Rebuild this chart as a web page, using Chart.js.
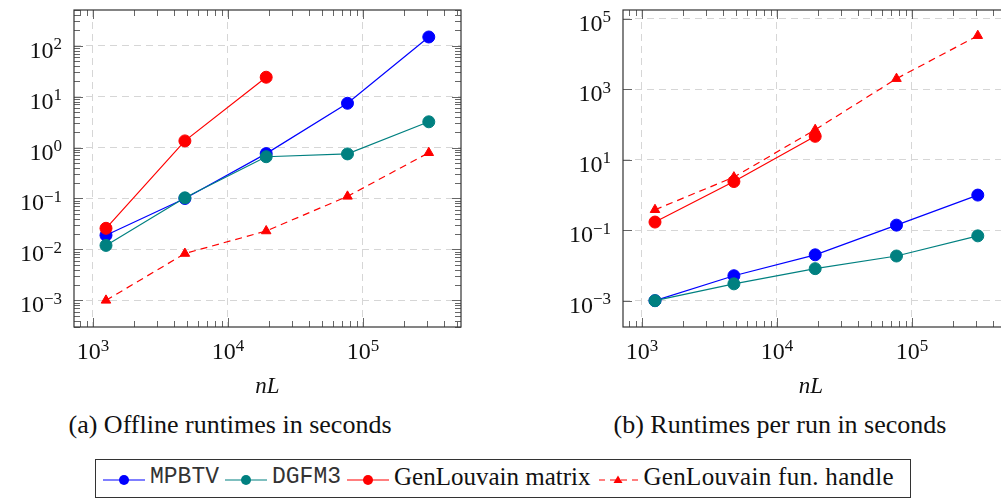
<!DOCTYPE html>
<html>
<head>
<meta charset="utf-8">
<script src="https://cdn.jsdelivr.net/npm/chart.js@4/dist/chart.umd.min.js"></script>
<style>
  html, body { margin: 0; padding: 0; background: #fff; }
  #page { position: relative; width: 1001px; height: 499px; overflow: hidden; background: #fff; font-family: 'Liberation Serif', serif; color: #111; }
  #page canvas { position: absolute; top: 0; }
  #chartA { left: 0; }
  #chartB { left: 540px; }
  .caption { position: absolute; top: 410px; line-height: 30px; font-size: 26px; white-space: nowrap; transform: translateX(-50%); }
  .tick { position: absolute; font-size: 24px; line-height: 24px; white-space: nowrap; }
  .tick sup { font-size: 17px; position: relative; top: -8.5px; vertical-align: baseline; line-height: 0; }
  .tick.x { transform: translateX(-50%); }
  .tick.y { transform: translateX(-100%); }
  .axtitle { position: absolute; font-style: italic; font-size: 23px; line-height: 24px; transform: translateX(-50%); white-space: nowrap; }
  #legend { position: absolute; left: 95px; top: 459px; width: 816px; height: 39px; box-sizing: border-box; border: 1px solid #333; padding: 0 0 4px 7px; display: flex; align-items: center; font-size: 25px; white-space: nowrap; }
  #legend svg { position: relative; top: 3px; margin-right: 5px; }
  #legend .txt { margin-right: 6px; line-height: 30px; }
  #legend .mono { font-family: 'Liberation Mono', monospace; font-size: 23px; color: #333; }
  #legend .wide { letter-spacing: 0.3px; }
</style>
</head>
<body>
<div id="page">
  <canvas id="chartA" width="480" height="400"></canvas>
  <canvas id="chartB" width="480" height="400"></canvas>
  <div class="caption" style="left:230px">(a) Offline runtimes in seconds</div>
  <div class="caption" style="left:780px">(b) Runtimes per run in seconds</div>
  <div id="legend"></div>
</div>
<script>
var nL = [1250, 4800, 19200, 76800, 307200];

var offlineMPBTV = [0.019, 0.1, 0.76, 7.4, 148];
var offlineDGFM3 = [0.012, 0.103, 0.66, 0.75, 3.2];
var offlineGenMatrix = [0.026, 1.35, 24];
var offlineGenHandle = [0.001, 0.0083, 0.023, 0.11, 0.79];

var perRunMPBTV = [0.001, 0.0051, 0.02, 0.139, 0.99];
var perRunDGFM3 = [0.001, 0.003, 0.0081, 0.0185, 0.069];
var perRunGenMatrix = [0.17, 2.4, 46];
var perRunGenHandle = [0.38, 3.2, 71, 1990, 33000];

var seriesNames = ['MPBTV', 'DGFM3', 'GenLouvain matrix', 'GenLouvain fun. handle'];
var seriesColors = ['#0000ff', '#008080', '#ff0000', '#ff0000'];

var xTickExps = [3, 4, 5];
var offlineYTickExps = [-3, -2, -1, 0, 1, 2];
var perRunYTickExps = [-3, -1, 1, 3, 5];

var xMin = Math.pow(10, 2.86), xMax = Math.pow(10, 5.726);
var baselineOffset = 20; // top of a 24px tick label box to its baseline

function points(ys) {
    return ys.map(function (y, i) { return { x: nL[i], y: y }; });
}

function dataset(i, ys) {
    var dashed = i === 3;
    return {
        label: seriesNames[i],
        data: points(ys),
        borderColor: seriesColors[i],
        backgroundColor: seriesColors[i],
        borderWidth: 1.2,
        borderDash: dashed ? [7, 5] : [],
        pointStyle: dashed ? 'triangle' : 'circle',
        pointRadius: dashed ? 5.5 : 6,
        pointBorderWidth: 1,
        pointBorderColor: seriesColors[i],
        pointBackgroundColor: seriesColors[i],
        tension: 0,
        order: 4 - i
    };
}

function expText(e) {
    return e < 0 ? '\u2212' + (-e) : String(e);
}

function minorValues(min, max) {
    var out = [];
    for (var e = Math.floor(Math.log10(min)); e <= Math.ceil(Math.log10(max)); e++) {
        for (var m = 2; m <= 9; m++) {
            var v = m * Math.pow(10, e);
            if (v > min && v < max) out.push(v);
        }
    }
    return out;
}

// frame and inward tick marks, pgfplots style
function axesPlugin(yExps, minorY) {
    return {
        id: 'pgfAxes',
        afterDraw: function (chart) {
            var ctx = chart.ctx, a = chart.chartArea;
            var xs = chart.scales.x, ys = chart.scales.y;
            ctx.save();
            ctx.strokeStyle = '#666';
            ctx.lineWidth = 1;
            function seg(x1, y1, x2, y2) {
                ctx.beginPath(); ctx.moveTo(x1, y1); ctx.lineTo(x2, y2); ctx.stroke();
            }
            function tickX(v, len) {
                var px = Math.round(xs.getPixelForValue(v)) + 0.5;
                seg(px, a.bottom, px, a.bottom - len);
                seg(px, a.top, px, a.top + len);
            }
            function tickY(v, len) {
                var py = Math.round(ys.getPixelForValue(v)) + 0.5;
                seg(a.left, py, a.left + len, py);
                seg(a.right, py, a.right - len, py);
            }
            minorValues(xs.min, xs.max).forEach(function (v) { tickX(v, 6); });
            xTickExps.forEach(function (e) { tickX(Math.pow(10, e), 9); });
            if (minorY) minorValues(ys.min, ys.max).forEach(function (v) { tickY(v, 6); });
            yExps.forEach(function (e) { tickY(Math.pow(10, e), 9); });

            ctx.strokeStyle = '#333';
            ctx.lineWidth = 1.2;
            ctx.strokeRect(a.left, a.top, a.right - a.left, a.bottom - a.top);
            ctx.restore();
        }
    };
}

function addLabel(cls, html, left, top) {
    var el = document.createElement('div');
    el.className = cls;
    el.innerHTML = html;
    el.style.left = left + 'px';
    el.style.top = top + 'px';
    document.getElementById('page').appendChild(el);
}

// tick labels and axis title as page text, placed from the chart's own scales
function addAxisText(chart, offsetX, yExps, titleX) {
    var a = chart.chartArea, xs = chart.scales.x, ys = chart.scales.y;
    xTickExps.forEach(function (e) {
        addLabel('tick x', '10<sup>' + expText(e) + '</sup>',
            offsetX + xs.getPixelForValue(Math.pow(10, e)), a.bottom + 32 - baselineOffset);
    });
    yExps.forEach(function (e) {
        addLabel('tick y', '10<sup>' + expText(e) + '</sup>',
            offsetX + a.left - 12, ys.getPixelForValue(Math.pow(10, e)) + 12 - baselineOffset);
    });
    addLabel('axtitle', 'nL', offsetX + titleX, 394 - baselineOffset);
}

function makeChart(id, sets, yMin, yMax, yExps, leftW, rightPad, minorY) {
    return new Chart(document.getElementById(id), {
        type: 'line',
        data: { datasets: sets },
        options: {
            responsive: false,
            animation: false,
            devicePixelRatio: 1,
            layout: { padding: { top: 10, right: rightPad, left: 0, bottom: 0 } },
            plugins: { legend: { display: false }, tooltip: { enabled: false } },
            scales: {
                x: {
                    type: 'logarithmic',
                    min: xMin,
                    max: xMax,
                    ticks: { display: false },
                    grid: { color: '#d6d6d6', lineWidth: 1, drawTicks: false },
                    border: { display: false, dash: [7, 5] },
                    afterBuildTicks: function (s) {
                        s.ticks = xTickExps.map(function (e) { return { value: Math.pow(10, e) }; });
                    },
                    afterFit: function (s) { s.height = 73; }
                },
                y: {
                    type: 'logarithmic',
                    min: yMin,
                    max: yMax,
                    ticks: { display: false },
                    grid: { color: '#d6d6d6', lineWidth: 1, drawTicks: false },
                    border: { display: false, dash: [7, 5] },
                    afterBuildTicks: function (s) {
                        s.ticks = yExps.map(function (e) { return { value: Math.pow(10, e) }; });
                    },
                    afterFit: function (s) { s.width = leftW; }
                }
            }
        },
        plugins: [axesPlugin(yExps, minorY)]
    });
}

function legendSymbol(i) {
    var c = seriesColors[i];
    var svg = '<svg width="42" height="20" viewBox="0 0 42 20">';
    if (i === 3) {
        svg += '<line x1="1" y1="10" x2="41" y2="10" stroke="' + c + '" stroke-width="1.2" stroke-dasharray="6,5" stroke-dashoffset="-1"/>';
        svg += '<polygon points="21,5.5 25.5,13 16.5,13" fill="' + c + '"/>';
    } else {
        svg += '<line x1="0" y1="10" x2="42" y2="10" stroke="' + c + '" stroke-width="1.2"/>';
        svg += '<circle cx="21" cy="10" r="5" fill="' + c + '"/>';
    }
    return svg + '</svg>';
}

document.addEventListener('DOMContentLoaded', function () {
    var chartA = makeChart('chartA', [
        dataset(0, offlineMPBTV),
        dataset(1, offlineDGFM3),
        dataset(2, offlineGenMatrix),
        dataset(3, offlineGenHandle)
    ], Math.pow(10, -3.52), Math.pow(10, 2.70), offlineYTickExps, 74, 19, true);
    addAxisText(chartA, 0, offlineYTickExps, 267.5);

    var chartB = makeChart('chartB', [
        dataset(0, perRunMPBTV),
        dataset(1, perRunDGFM3),
        dataset(2, perRunGenMatrix),
        dataset(3, perRunGenHandle)
    ], Math.pow(10, -3.747), Math.pow(10, 5.247), perRunYTickExps, 83, 10, false);
    addAxisText(chartB, 540, perRunYTickExps, 271);

    var html = '';
    seriesNames.forEach(function (name, i) {
        html += legendSymbol(i) + '<span class="txt' + (i < 2 ? ' mono' : (i === 3 ? ' wide' : '')) + '">' + name + '</span>';
    });
    document.getElementById('legend').innerHTML = html;
});
</script>
</body>
</html>
